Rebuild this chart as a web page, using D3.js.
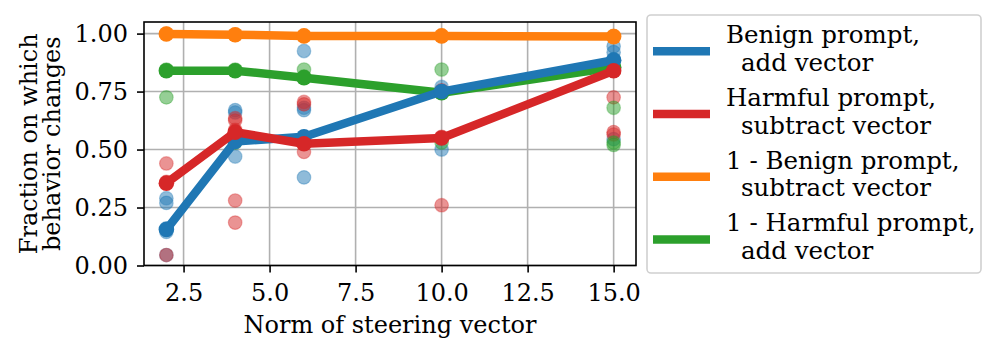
<!DOCTYPE html>
<html>
<head>
<meta charset="utf-8">
<script src="https://cdn.jsdelivr.net/npm/d3@7"></script>
<style>
  body { margin: 0; background: #fff; }
  svg { font-family: "DejaVu Serif", serif; }
</style>
</head>
<body>
<svg width="997" height="354"></svg>
<script>
// steering vector norms
var norms = [2, 4, 6, 10, 15];
var xTicks = [2.5, 5.0, 7.5, 10.0, 12.5, 15.0];
var yTicks = [0, 0.25, 0.5, 0.75, 1.0];

// mean lines
var benignAdd = [0.155, 0.535, 0.555, 0.75, 0.885];
var harmfulSub = [0.355, 0.575, 0.525, 0.55, 0.84];
var oneMinusBenignSub = [0.998, 0.995, 0.99, 0.99, 0.987];
var oneMinusHarmfulAdd = [0.84, 0.84, 0.81, 0.745, 0.855];

// individual runs (one list per norm)
var benignAddPts = [[0.29, 0.27, 0.16, 0.145, 0.045], [0.67, 0.66, 0.55, 0.47], [0.925, 0.68, 0.67, 0.555, 0.38], [0.77, 0.75, 0.50], [0.945, 0.92, 0.89, 0.545]];
var harmfulSubPts = [[0.44, 0.36, 0.045], [0.635, 0.625, 0.585, 0.28, 0.185], [0.705, 0.695, 0.49], [0.755, 0.555, 0.26], [0.84, 0.725, 0.575, 0.565]];
var oneMinusBenignSubPts = [[1.0], [0.995], [0.99], [0.99], [0.99]];
var oneMinusHarmfulAddPts = [[0.845, 0.725], [0.845, 0.53], [0.845, 0.815], [0.845, 0.53], [0.84, 0.68, 0.53, 0.52]];

var seriesNames = ["Benign prompt,|add vector", "Harmful prompt,|subtract vector", "1 - Benign prompt,|subtract vector", "1 - Harmful prompt,|add vector"];
var colors = ["#1f77b4", "#d62728", "#ff7f0e", "#2ca02c"];

var series = [
  {name: seriesNames[0], color: colors[0], mean: benignAdd, pts: benignAddPts},
  {name: seriesNames[1], color: colors[1], mean: harmfulSub, pts: harmfulSubPts},
  {name: seriesNames[2], color: colors[2], mean: oneMinusBenignSub, pts: oneMinusBenignSubPts},
  {name: seriesNames[3], color: colors[3], mean: oneMinusHarmfulAdd, pts: oneMinusHarmfulAddPts}
];

var svg = d3.select("svg");
var pLeft = 144, pRight = 636, pTop = 22, pBottom = 265.5;

var x = d3.scaleLinear().domain([1.35, 15.65]).range([pLeft, pRight]);
var y = d3.scaleLinear().domain([0, 1.05]).range([pBottom, pTop]);

// grid
var grid = svg.append("g").attr("stroke", "#b0b0b0").attr("stroke-width", 1.6);
grid.selectAll("line.gx").data(xTicks).enter().append("line")
  .attr("x1", d => x(d)).attr("x2", d => x(d)).attr("y1", pTop).attr("y2", pBottom);
grid.selectAll("line.gy").data(yTicks).enter().append("line")
  .attr("y1", d => y(d)).attr("y2", d => y(d)).attr("x1", pLeft).attr("x2", pRight);

// scatter of individual runs
var plot = svg.append("g");
series.forEach(function(s) {
  var pts = [];
  s.pts.forEach(function(list, i) {
    list.forEach(function(v) { pts.push({x: norms[i], y: v}); });
  });
  plot.append("g").selectAll("circle").data(pts).enter().append("circle")
    .attr("cx", d => x(d.x)).attr("cy", d => y(d.y)).attr("r", 6.8)
    .attr("fill", s.color).attr("fill-opacity", 0.5)
    .attr("stroke", s.color).attr("stroke-opacity", 0.35).attr("stroke-width", 1.2);
});

// mean lines, drawn green, orange, blue, red
var line = d3.line().x((d, i) => x(norms[i])).y(d => y(d));
[3, 2, 0, 1].forEach(function(k) {
  var s = series[k];
  plot.append("path").datum(s.mean).attr("d", line)
    .attr("fill", "none").attr("stroke", s.color).attr("stroke-width", 8.5)
    .attr("stroke-linejoin", "round");
  plot.append("g").selectAll("circle").data(s.mean).enter().append("circle")
    .attr("cx", (d, i) => x(norms[i])).attr("cy", d => y(d)).attr("r", 7.8)
    .attr("fill", s.color);
});

// frame
svg.append("rect").attr("x", pLeft).attr("y", pTop).attr("width", pRight - pLeft).attr("height", pBottom - pTop)
  .attr("fill", "none").attr("stroke", "#000").attr("stroke-width", 1.6);

// axes
var xAxis = svg.append("g").attr("transform", "translate(0," + pBottom + ")")
  .call(d3.axisBottom(x).tickValues(xTicks).tickFormat(d3.format(".1f")).tickSize(7).tickPadding(11));
var yAxis = svg.append("g").attr("transform", "translate(" + pLeft + ",0)")
  .call(d3.axisLeft(y).tickValues(yTicks).tickFormat(d3.format(".2f")).tickSize(7).tickPadding(9));
[xAxis, yAxis].forEach(function(a) {
  a.select(".domain").remove();
  a.selectAll(".tick line").attr("stroke", "#000").attr("stroke-width", 1.6);
  a.selectAll("text").attr("fill", "#000").style("font-size", "24px").style("font-family", "DejaVu Serif");
});

// axis titles
svg.append("text").attr("x", (pLeft + pRight) / 2).attr("y", 333).attr("text-anchor", "middle")
  .style("font-size", "24px").text("Norm of steering vector");
var yl = svg.append("text").attr("transform", "translate(0," + ((pTop + pBottom) / 2) + ") rotate(-90)")
  .attr("text-anchor", "middle").style("font-size", "24px");
yl.append("tspan").attr("x", 0).attr("y", 36.7).text("Fraction on which");
yl.append("tspan").attr("x", 0).attr("y", 60).text("behavior changes");

// legend
var lg = svg.append("g");
lg.append("rect").attr("x", 647).attr("y", 15).attr("width", 334).attr("height", 258).attr("rx", 4)
  .attr("fill", "#fff").attr("stroke", "#d0d0d0").attr("stroke-width", 1.6);
series.forEach(function(s, i) {
  var b = 43.3 + 62.7 * i;
  lg.append("line").attr("x1", 653).attr("x2", 710).attr("y1", b + 8).attr("y2", b + 8)
    .attr("stroke", s.color).attr("stroke-width", 8.5);
  var parts = s.name.split("|");
  lg.append("text").attr("x", 726).attr("y", b).style("font-size", "24.5px").text(parts[0]);
  lg.append("text").attr("x", 741).attr("y", b + 27.7).style("font-size", "24.5px").text(parts[1]);
});
</script>
</body>
</html>
